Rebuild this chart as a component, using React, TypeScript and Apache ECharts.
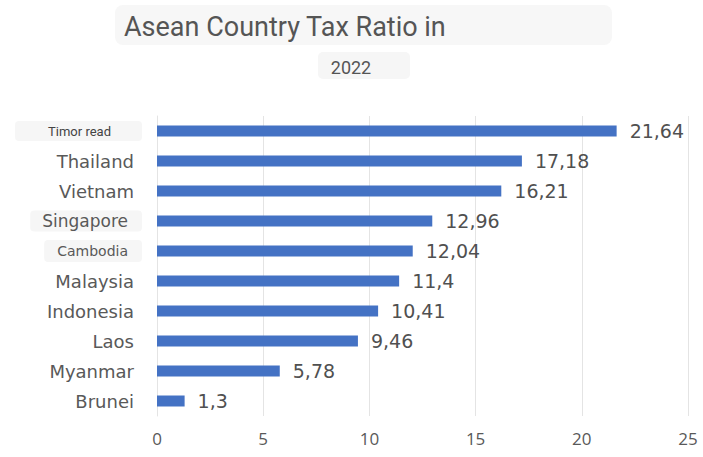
import React, { useEffect, useRef } from "react";
import * as echarts from "echarts";

const countries = ["Timor read", "Thailand", "Vietnam", "Singapore", "Cambodia", "Malaysia", "Indonesia", "Laos", "Myanmar", "Brunei"];
const values = [21.64, 17.18, 16.21, 12.96, 12.04, 11.4, 10.41, 9.46, 5.78, 1.3];
const valueLabels = ["21,64", "17,18", "16,21", "12,96", "12,04", "11,4", "10,41", "9,46", "5,78", "1,3"];
const titleText = "Asean Country Tax Ratio in";
const subtitleText = "2022";

export default function App() {
  const ref = useRef<HTMLDivElement>(null);
  useEffect(() => {
    const chart = echarts.init(ref.current!, null, { renderer: "svg" });
    const cats = countries.slice().reverse();
    const vals = values.slice().reverse();
    const labs = valueLabels.slice().reverse();
    chart.setOption({
      animation: false,
      backgroundColor: "#ffffff",
      graphic: [
        { type: "rect", shape: { x: 115, y: 5, width: 497, height: 40, r: 8 }, style: { fill: "#f7f7f7" } },
        { type: "rect", shape: { x: 318, y: 52, width: 92, height: 27, r: 5 }, style: { fill: "#f6f6f6" } },
        { type: "text", x: 124, y: 27, style: { text: titleText, fontSize: 27, fontFamily: "Roboto", fill: "#555555", textVerticalAlign: "middle" } },
        { type: "text", x: 351, y: 67, style: { text: subtitleText, fontSize: 18, fontFamily: "Roboto", fill: "#555555", textAlign: "center", textVerticalAlign: "middle" } },
      ],
      grid: { left: 157, right: 15, top: 116, bottom: 41, containLabel: false },
      xAxis: {
        type: "value",
        min: 0,
        max: 25,
        interval: 5,
        axisLine: { show: false },
        axisTick: { show: false },
        splitLine: { show: true, lineStyle: { color: "#e4e4e4", width: 1 } },
        axisLabel: { fontSize: 17, color: "#595959", fontFamily: "Open Sans", margin: 14 },
      },
      yAxis: {
        type: "category",
        data: cats,
        axisLine: { show: true, lineStyle: { color: "#e4e4e4" } },
        axisTick: { show: false },
        axisLabel: {
          margin: 15,
          fontFamily: "DejaVu Sans",
          formatter: (v: string) => {
            if (v === "Timor read") return "{timor|" + v + "}";
            if (v === "Singapore") return "{sing|" + v + "}";
            if (v === "Cambodia") return "{camb|" + v + "}";
            return "{n|" + v + "}";
          },
          rich: {
            n: { fontSize: 18, color: "#595959", fontFamily: "DejaVu Sans", padding: [0, 8, 0, 0] },
            timor: { fontSize: 13, color: "#444444", fontFamily: "Roboto", backgroundColor: "#f6f6f6", padding: [4, 31, 3, 33], borderRadius: 4 },
            sing: { fontSize: 17, color: "#595959", fontFamily: "DejaVu Sans", backgroundColor: "#f6f6f6", padding: [2, 14, 2, 12], borderRadius: 4 },
            camb: { fontSize: 14, color: "#595959", fontFamily: "DejaVu Sans", backgroundColor: "#f6f6f6", padding: [4, 14, 4, 13], borderRadius: 4 },
          },
        },
      },
      series: [
        {
          type: "bar",
          data: vals,
          barWidth: 11,
          itemStyle: { color: "#4472c4" },
          label: {
            show: true,
            position: "right",
            distance: 13,
            fontSize: 19,
            color: "#505050",
            fontFamily: "DejaVu Sans",
            formatter: (p: any) => labs[p.dataIndex],
          },
        },
      ],
    });
    return () => chart.dispose();
  }, []);
  return <div ref={ref} style={{ width: 703, height: 457, position: "absolute", left: 0, top: 0 }} />;
}
